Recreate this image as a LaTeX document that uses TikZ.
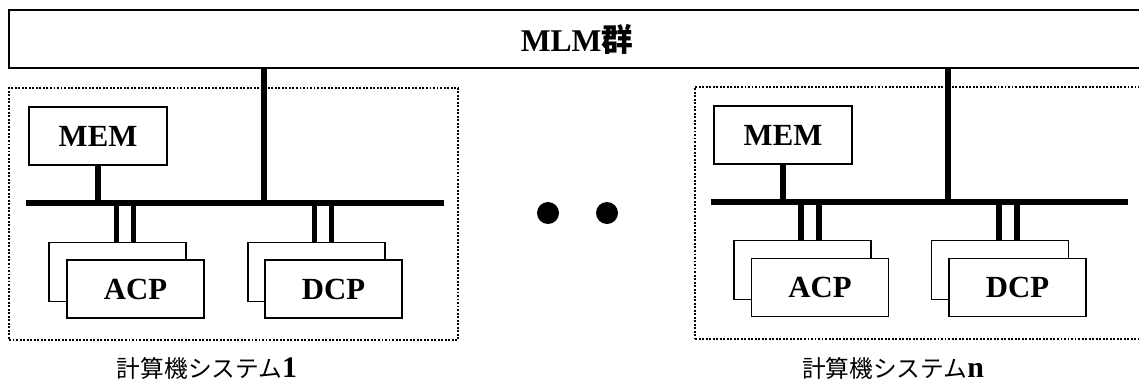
\documentclass[tikz,border=0pt]{standalone}
\usepackage{fontspec}
\setmainfont{Liberation Serif}
\newfontfamily\jpfont{Noto Sans CJK JP}
\usetikzlibrary{positioning}

\begin{document}
\begin{tikzpicture}[x=0.02cm, y=-0.02cm,
  box/.style={draw, line width=0.8pt, fill=white, minimum width=2.74cm, minimum height=1.18cm, font=\bfseries\fontsize{17.5}{17.5}\selectfont},
  unit/.style={draw, line width=0.7pt, dash pattern=on 1.1pt off 0.9pt, minimum height=5.04cm},
  bus/.style={line width=3.4pt, line cap=butt},
  sysname/.style={font=\jpfont\fontsize{13.5}{13.5}\selectfont}]
\path[use as bounding box] (0,0) rectangle (1139,382);
\node[draw, line width=0.9pt, minimum width=22.72cm, minimum height=1.16cm, font=\bfseries\fontsize{18}{18}\selectfont] (MLM) at (577,39) {MLM{\jpfont 群}};
% computer system 1
\node[unit, minimum width=8.98cm] (U1) at (233.5,214) {};
\node[box, minimum height=1.16cm, minimum width=2.76cm] (MEM1) at (98,136) {MEM};
\node[box] (ACP1b) at (117.5,272) {};
\node[box, minimum height=1.16cm] (ACP1) at (135.5,289) {ACP};
\node[box] (DCP1b) at (316.5,272) {};
\node[box, minimum height=1.16cm] (DCP1) at (333.5,289) {DCP};
\coordinate (B1w) at (26,203);
\coordinate (B1e) at (444,203);
\coordinate (T1) at (264,203);
\draw[bus] (B1w) -- (B1e);
\draw[bus] (MLM.south -| T1) -- (T1);
\draw[bus] (MEM1.south) -- (MEM1.south |- B1w);
\draw[bus] ([xshift=-0.02cm]ACP1b.north) -- ([xshift=-0.02cm]ACP1b.north |- B1w);
\draw[bus] ([xshift=0.32cm]ACP1b.north) -- ([xshift=0.32cm]ACP1b.north |- B1w);
\draw[bus] ([xshift=-0.04cm]DCP1b.north) -- ([xshift=-0.04cm]DCP1b.north |- B1w);
\draw[bus] ([xshift=0.3cm]DCP1b.north) -- ([xshift=0.3cm]DCP1b.north |- B1w);
\node[sysname] (S1) at (207,368) {計算機システム{\bfseries\fontspec{Liberation Serif}\fontsize{17}{17}\selectfont 1}};
% dots
\node[circle, fill, inner sep=0pt, minimum size=0.44cm] (dot1) at (548,213) {};
\node[circle, fill, inner sep=0pt, minimum size=0.44cm] (dot2) at (607,213) {};
% computer system n
\node[unit, minimum width=9.1cm] (U2) at (922.5,213) {};
\node[box, minimum height=1.16cm, minimum width=2.76cm] (MEM2) at (783,135) {MEM};
\node[box] (ACP2b) at (802.5,270) {};
\node[box, minimum height=1.16cm] (ACP2) at (820,287.5) {ACP};
\node[box] (DCP2b) at (1000,270) {};
\node[box, minimum height=1.16cm] (DCP2) at (1017.5,287.5) {DCP};
\coordinate (B2w) at (711,202);
\coordinate (B2e) at (1128,202);
\coordinate (T2) at (948,202);
\draw[bus] (B2w) -- (B2e);
\draw[bus] (MLM.south -| T2) -- (T2);
\draw[bus] (MEM2.south) -- (MEM2.south |- B2w);
\draw[bus] ([xshift=-0.03cm]ACP2b.north) -- ([xshift=-0.03cm]ACP2b.north |- B2w);
\draw[bus] ([xshift=0.33cm]ACP2b.north) -- ([xshift=0.33cm]ACP2b.north |- B2w);
\draw[bus] ([xshift=-0.02cm]DCP2b.north) -- ([xshift=-0.02cm]DCP2b.north |- B2w);
\draw[bus] ([xshift=0.34cm]DCP2b.north) -- ([xshift=0.34cm]DCP2b.north |- B2w);
\node[sysname] (S2) at (893,368) {計算機システム{\bfseries\fontspec{Liberation Serif}\fontsize{17}{17}\selectfont n}};
\end{tikzpicture}
\end{document}
